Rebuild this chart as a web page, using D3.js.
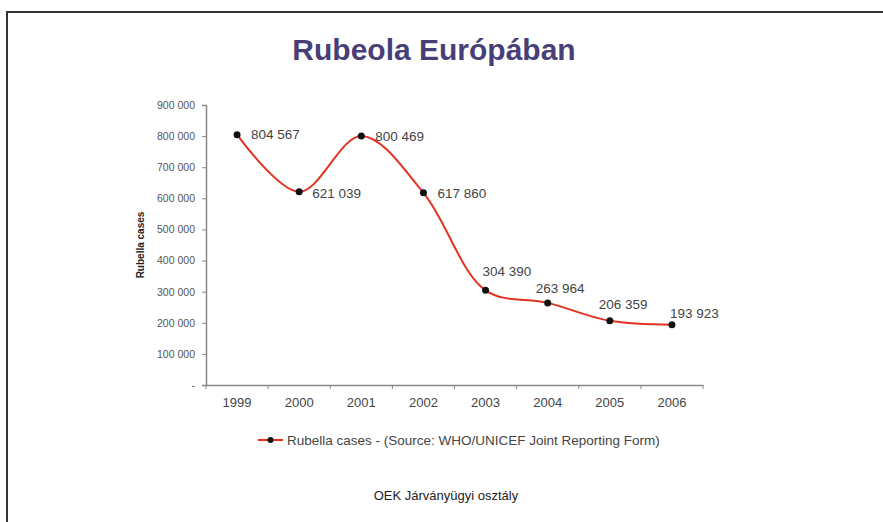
<!DOCTYPE html>
<html>
<head>
<meta charset="utf-8">
<script src="https://cdn.jsdelivr.net/npm/d3@7"></script>
<style>
  body { margin: 0; background: #fff; }
  svg { display: block; font-family: "Liberation Sans", Arial, sans-serif; }
</style>
</head>
<body>
<svg id="chart" width="883" height="522"></svg>
<script>
// chart data
const years = ["1999", "2000", "2001", "2002", "2003", "2004", "2005", "2006"];
const cases = [804567, 621039, 800469, 617860, 304390, 263964, 206359, 193923];
const yTicks = [0, 100000, 200000, 300000, 400000, 500000, 600000, 700000, 800000, 900000];
const valueLabels = ["804 567", "621 039", "800 469", "617 860", "304 390", "263 964", "206 359", "193 923"];
// label offsets from the point (hand placed in the original)
const labelOffsets = [[14, 0], [13, 1], [14, 0], [14, 0], [-3, -19], [-12, -15], [-11, -17], [-2, -11]];

const svg = d3.select("#chart");
const W = 883, H = 522;
const margin = { left: 206, right: 180, top: 105, bottom: 137 };

// outer frame (only top and left visible)
svg.append("path")
  .attr("d", "M7,522V12H883")
  .attr("fill", "none")
  .attr("stroke", "#333")
  .attr("stroke-width", 2);

// title
svg.append("text")
  .attr("x", 434).attr("y", 60)
  .attr("text-anchor", "middle")
  .attr("font-size", 30).attr("font-weight", "bold")
  .attr("fill", "#483f78")
  .text("Rubeola Európában");

const x = d3.scaleBand().domain(years).range([margin.left, W - margin.right]);
const y = d3.scaleLinear().domain([0, 900000]).range([H - margin.bottom, margin.top]);

const fmt = d => d === 0 ? "-" : d3.format(",")(d).replace(/,/g, " ");

// y axis
const yAxis = svg.append("g")
  .attr("transform", `translate(${margin.left},0)`)
  .call(d3.axisLeft(y).tickValues(yTicks).tickFormat(fmt).tickSize(4).tickPadding(7));
yAxis.select(".domain").attr("stroke", "#888").attr("stroke-width", 1.5);
yAxis.selectAll(".tick line").attr("stroke", "#888");
yAxis.selectAll("text").attr("font-size", 10.5).attr("fill", "#555")
  .attr("font-family", "Liberation Sans, Arial, sans-serif");

// x axis, ticks between categories
const xAxis = svg.append("g")
  .attr("transform", `translate(0,${H - margin.bottom})`)
  .call(d3.axisBottom(x).tickSize(0).tickPadding(13));
xAxis.select(".domain").attr("stroke", "#888").attr("stroke-width", 1.5);
xAxis.selectAll("text").attr("font-size", 13).attr("fill", "#444")
  .attr("font-family", "Liberation Sans, Arial, sans-serif");
xAxis.selectAll(".sep")
  .data(years.concat(["end"]))
  .enter().append("line")
  .attr("x1", (d, i) => i < years.length ? x(d) : x.range()[1])
  .attr("x2", (d, i) => i < years.length ? x(d) : x.range()[1])
  .attr("y1", 0).attr("y2", 4)
  .attr("stroke", "#888");

// axis title
svg.append("text")
  .attr("transform", `translate(144,${y(450000)}) rotate(-90)`)
  .attr("text-anchor", "middle")
  .attr("font-size", 10).attr("font-weight", "bold")
  .attr("fill", "#222")
  .text("Rubella cases");

const pts = years.map((yr, i) => ({ yr, v: cases[i], lbl: valueLabels[i], off: labelOffsets[i] }));
const cx = d => x(d.yr) + x.bandwidth() / 2;

const line = d3.line()
  .x(cx)
  .y(d => y(d.v))
  .curve(d3.curveCatmullRom.alpha(0.5));

svg.append("path")
  .datum(pts)
  .attr("fill", "none")
  .attr("stroke", "#e3321f")
  .attr("stroke-width", 2)
  .attr("d", line);

svg.selectAll(".dot")
  .data(pts)
  .enter().append("circle")
  .attr("cx", cx)
  .attr("cy", d => y(d.v))
  .attr("r", 3.5)
  .attr("fill", "#111");

svg.selectAll(".lbl")
  .data(pts)
  .enter().append("text")
  .attr("x", d => cx(d) + d.off[0])
  .attr("y", d => y(d.v) + d.off[1])
  .attr("dy", "0.35em")
  .attr("font-size", 13.5)
  .attr("fill", "#444")
  .text(d => d.lbl);

// legend
const lg = svg.append("g").attr("transform", "translate(258,440)");
lg.append("line").attr("x1", 0).attr("x2", 25).attr("stroke", "#e3321f").attr("stroke-width", 2);
lg.append("circle").attr("cx", 12.5).attr("r", 3).attr("fill", "#111");
lg.append("text").attr("x", 29).attr("dy", "0.35em")
  .attr("font-size", 13.5).attr("fill", "#444")
  .text("Rubella cases - (Source: WHO/UNICEF Joint Reporting Form)");

// footer
svg.append("text")
  .attr("x", 446).attr("y", 500)
  .attr("text-anchor", "middle")
  .attr("font-size", 13).attr("fill", "#222")
  .text("OEK Járványügyi osztály");
</script>
</body>
</html>
